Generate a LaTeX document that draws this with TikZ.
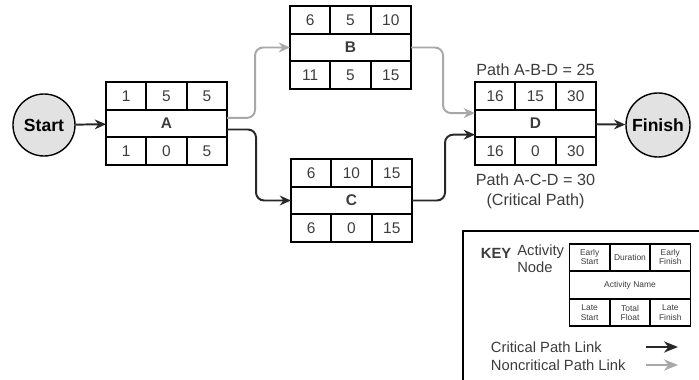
\documentclass[tikz,border=0pt]{standalone}
\usepackage{fontspec}
\setmainfont{Liberation Sans}
\usepackage{xcolor}
\usetikzlibrary{arrows.meta, positioning}
\definecolor{critcolor}{RGB}{40,40,40}
\definecolor{noncritcolor}{RGB}{168,168,168}
\definecolor{eventcolor}{RGB}{226,226,226}
\definecolor{numcolor}{RGB}{60,60,60}

% activity node: name, position, top row (ES/Dur/EF), activity, bottom row (LS/TF/LF)
\newcommand{\actnode}[5]{%
  \node[midrow] (#1) at #2 {#4};
  \foreach \v [count=\i] in {#3}
    \node[cell, anchor=south west, xshift={(\i-1)*1.0083cm}] (#1-t\i) at (#1.north west) {\v};
  \foreach \v [count=\i] in {#5}
    \node[cell, anchor=north west, xshift={(\i-1)*1.0083cm}] (#1-b\i) at (#1.south west) {\v};
}

\begin{document}
\begin{tikzpicture}[
            x=0.025cm, y=-0.025cm,
            cell/.style={rectangle, draw, line width=1.6pt, outer sep=0pt, minimum width=1.0083cm, minimum height=0.69cm, inner sep=0pt, text=numcolor, font=\fontsize{11}{13}\selectfont, align=center},
            midrow/.style={cell, minimum width=3.025cm, font=\fontsize{11}{13}\selectfont\bfseries},
            event/.style={circle, draw, line width=1pt, fill=eventcolor, minimum size=1.55cm, inner sep=0pt, font=\fontsize{12.5}{14}\selectfont\bfseries},
            label/.style={font=\fontsize{11.5}{14}\selectfont, text=numcolor, align=center},
            keytext/.style={font=\fontsize{10.5}{12}\selectfont, text=numcolor},
            crit/.style={-{Stealth[length=8pt, width=7pt]}, line width=1.4pt, draw=critcolor, rounded corners=0.2cm},
            noncrit/.style={crit, draw=noncritcolor}
        ]
            \useasboundingbox (0,0) rectangle (699,380);

            \node[event] (start) at (44,125) {Start};
            \node[event, minimum size=1.6cm] (finish) at (658,125) {Finish};

            \actnode{A}{(166.5,123.5)}{1,5,5}{A}{1,0,5}
            \actnode{B}{(350.5,47.5)}{6,5,10}{B}{11,5,15}
            \actnode{C}{(351.5,200.5)}{6,10,15}{C}{6,0,15}
            \actnode{D}{(535.5,123.5)}{16,15,30}{D}{16,0,30}

            \node[label, above=1pt of D-t2] (pathabd) {Path A-B-D = 25};
            \node[label, below=3pt of D-b2] (pathacd) {Path A-C-D = 30\\(Critical Path)};

            \draw[crit] (start) -- (A);
            \draw[noncrit] ([yshift=0.14cm]A.east) -- ++(28,0) |- (B.west);
            \draw[crit] ([yshift=-0.15cm]A.east) -- ++(29,0) |- (C.west);
            \draw[noncrit] (B.east) -- ++(32,0) |- ([yshift=0.26cm]D.west);
            \draw[crit] (C.east) -- ++(33,0) |- ([yshift=-0.28cm]D.west);
            \draw[crit] (D) -- (finish);

            % key
            \draw[line width=1pt] (699,231) -- (463,231) -- (463,380);
            \node[keytext, font=\fontsize{10.5}{12}\selectfont\bfseries, anchor=north west] (key) at (476,243) {KEY};
            \node[keytext, anchor=north west, align=left, inner sep=0pt] (keyact) at (517,245) {Activity\\Node};
            \begin{scope}[cell/.append style={line width=1.3pt, font=\fontsize{6}{6.5}\selectfont},
                          midrow/.append style={font=\fontsize{6}{6.5}\selectfont}]
                \actnode{K}{(630,285)}{Early\\Start,Duration,Early\\Finish}{Activity Name}{Late\\Start,Total\\Float,Late\\Finish}
            \end{scope}
            \node[keytext, anchor=west] (critlink) at (486,347) {Critical Path Link};
            \node[keytext, anchor=west] (noncritlink) at (486,365) {Noncritical Path Link};
            \coordinate (crit-a) at (646,347);
            \coordinate (crit-b) at (678,347);
            \coordinate (noncrit-a) at (646,365);
            \coordinate (noncrit-b) at (678,365);
            \draw[crit, -{Stealth[length=10pt, width=8pt]}] (crit-a) -- (crit-b);
            \draw[noncrit, -{Stealth[length=10pt, width=8pt]}] (noncrit-a) -- (noncrit-b);
        \end{tikzpicture}
\end{document}
